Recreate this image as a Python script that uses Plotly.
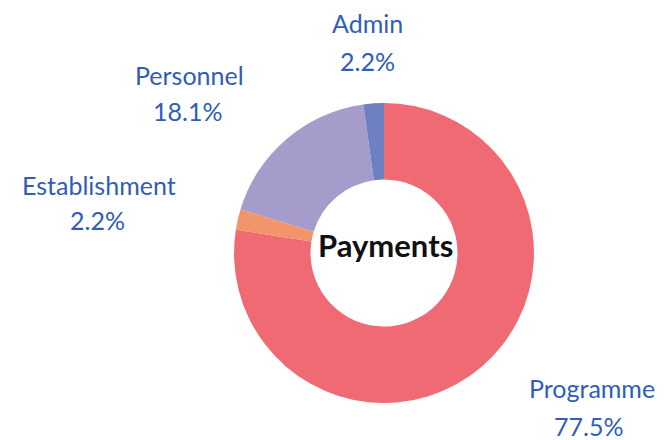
import plotly.graph_objects as go

categories = ["Programme", "Establishment", "Personnel", "Admin"]
shares = [77.5, 2.2, 18.1, 2.2]
colors = ["#F06A74", "#F3956A", "#A59CCB", "#6F80C2"]
center_title = "Payments"

W, H = 671, 440

fig = go.Figure(go.Pie(
    labels=categories,
    values=shares,
    sort=False,
    direction="clockwise",
    rotation=0,
    hole=0.49,
    marker=dict(colors=colors, line=dict(width=0)),
    textinfo="none",
    hoverinfo="label+percent",
    showlegend=False,
    domain=dict(x=[0.3368, 0.7839], y=[0.1023, 0.784]),
))

# label anchor positions in pixels (name line, percent line)
label_px = {
    "Programme": ((583.5, 380), (580, 418)),
    "Establishment": ((91, 176.5), (89.5, 212.5)),
    "Personnel": ((181, 66.5), (179.5, 103)),
    "Admin": ((359.5, 15), (359.5, 53)),
}

def px(x, y):
    return x / W, (H - y) / H

font = dict(family="Lato, Open Sans, sans-serif", size=25, color="#2F5DB8")
total = sum(shares)
annotations = []
for cat, val in zip(categories, shares):
    (nx, ny), (vx, vy) = label_px[cat]
    for (x, y), txt in (((nx, ny), cat), ((vx, vy), f"{val / total * 100:.1f}%")):
        ax, ay = px(x, y)
        annotations.append(dict(
            x=ax, y=ay, xref="paper", yref="paper", xanchor="center", yanchor="middle",
            text=txt, showarrow=False, font=font,
        ))
cx, cy = px(378, 237)
annotations.append(dict(
    x=cx, y=cy, xref="paper", yref="paper", xanchor="center", yanchor="middle",
    text=f"<b>{center_title}</b>", showarrow=False,
    font=dict(family="Lato, Open Sans, sans-serif", size=31, color="#111111"),
))

fig.update_layout(
    width=W, height=H,
    margin=dict(l=0, r=0, t=0, b=0),
    paper_bgcolor="white", plot_bgcolor="white",
    annotations=annotations,
)
fig.write_html("out.html")
